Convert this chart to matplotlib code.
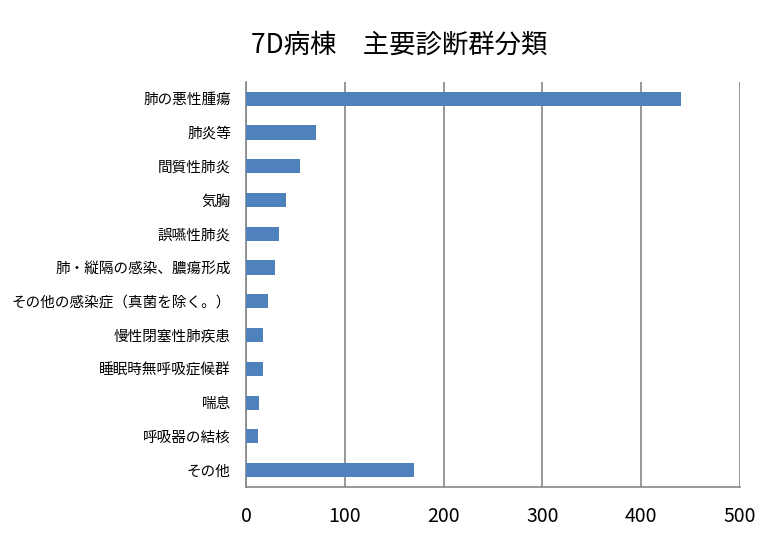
import matplotlib
matplotlib.use("Agg")
import matplotlib.pyplot as plt

plt.rcParams['font.family'] = ['Noto Sans CJK JP', 'DejaVu Sans']

categories = ["肺の悪性腫瘍", "肺炎等", "間質性肺炎", "気胸", "誤嚥性肺炎",
              "肺・縦隔の感染、膿瘍形成", "その他の感染症（真菌を除く。）",
              "慢性閉塞性肺疾患", "睡眠時無呼吸症候群", "喘息", "呼吸器の結核", "その他"]
values = [440, 71, 55, 40, 33, 29, 22, 17, 17, 13, 12, 170]
xticks = [0, 100, 200, 300, 400, 500]

fig = plt.figure(figsize=(7.79, 5.39), dpi=100, facecolor="white")
ax = fig.add_axes([0.316, 0.0965, 0.634, 0.7515])

pos = list(range(len(categories)))[::-1]
ax.barh(pos, values, height=0.42, color="#4F81BD", zorder=3)

ax.set_xlim(0, 500)
ax.set_ylim(-0.5, len(categories) - 0.5)
ax.set_xticks(xticks)
ax.set_xticklabels([str(t) for t in xticks], fontsize=14)
ax.set_yticks(pos)
ax.set_yticklabels(categories, fontsize=10.5)
ax.tick_params(axis="x", length=0, pad=14)
ax.tick_params(axis="y", length=0, pad=11)
ax.grid(axis="x", color="#868686", linewidth=1.2, zorder=0)

for s in ["top", "right"]:
    ax.spines[s].set_visible(False)
for s in ["left", "bottom"]:
    ax.spines[s].set_color("#868686")
    ax.spines[s].set_linewidth(1.2)

fig.text(399 / 779, 1 - 45 / 539, "7D病棟　主要診断群分類", fontsize=19,
         ha="center", va="center")

fig.savefig("out.png", dpi=100, facecolor="white")
